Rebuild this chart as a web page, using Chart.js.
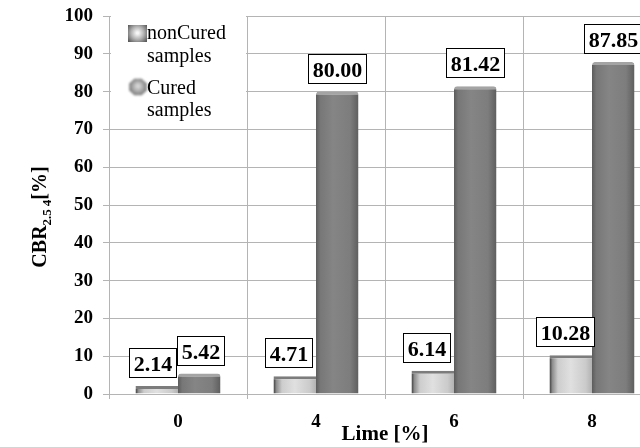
<!DOCTYPE html>
<html>
<head>
<meta charset="utf-8">
<script src="https://cdn.jsdelivr.net/npm/chart.js@4.4.1/dist/chart.umd.min.js"></script>
<style>
  html, body { margin: 0; padding: 0; background: #fff; overflow: hidden; }
  #wrap { width: 640px; height: 447px; overflow: hidden; position: relative; }
  canvas { display: block; }
</style>
</head>
<body>
<div id="wrap"><canvas id="chart" width="680" height="447"></canvas></div>
<script>
// Lime content (%) on the x axis
const categories = ['0', '4', '6', '8'];
// CBR values (%) for each lime content
const nonCuredValues = [2.14, 4.71, 6.14, 10.28];
const curedValues = [5.42, 80.00, 81.42, 87.85];
// legend text, split over two lines
const seriesNames = [['nonCured', 'samples'], ['Cured', 'samples']];
const yTickMax = 100;
const yTickStep = 10;
const xTitle = 'Lime [%]';

const SERIF = '"Liberation Serif", "Times New Roman", serif';
const GRID = '#b4b4b4';
const CATEGORY_PCT = 0.616;

// horizontal shading that gives each bar a rounded, cylinder-like look
const shades = [
  [[0, '#3c3c3c'], [0.07, '#8e8e8e'], [0.2, '#cdcdcd'], [0.5, '#e0e0e0'], [0.85, '#cbcbcb'], [1, '#b2b2b2']],
  [[0, '#5c5c5c'], [0.1, '#777777'], [0.4, '#858585'], [0.8, '#7d7d7d'], [1, '#5e5e5e']]
];
const flatColors = ['#d0d0d0', '#808080'];
const rimColors = ['#7c7c7c', '#a4a4a4'];

function barFill(context) {
  const chart = context.chart;
  const ds = context.datasetIndex;
  const xs = chart.scales && chart.scales.x;
  if (!chart.chartArea || !xs || context.dataIndex === undefined) return flatColors[ds];
  const catW = xs.width / categories.length;
  const groupW = catW * CATEGORY_PCT;
  const barW = groupW / 2;
  const left = xs.getPixelForValue(context.dataIndex) - groupW / 2 + ds * barW;
  const g = chart.ctx.createLinearGradient(left, 0, left + barW, 0);
  shades[ds].forEach(([p, c]) => g.addColorStop(p, c));
  return g;
}

// boxed value labels above the bars
const valueBoxes = {
  id: 'valueBoxes',
  afterDatasetsDraw(chart) {
    const ctx = chart.ctx;
    const shift = [-6, 0];
    ctx.save();
    ctx.font = 'bold 22px ' + SERIF;
    chart.data.datasets.forEach((ds, di) => {
      const meta = chart.getDatasetMeta(di);
      meta.data.forEach((bar, i) => {
        const text = ds.data[i].toFixed(2);
        const tw = ctx.measureText(text).width;
        const w = Math.round(tw + 8), h = 29;
        let cx = bar.x + shift[di];
        if (i === 0) cx = bar.x + (di === 0 ? -4 : 1);
        const left = Math.round(cx - w / 2) + 0.5;
        const top = Math.round(bar.y - 9 - h) + 0.5;
        ctx.fillStyle = '#fff';
        ctx.fillRect(left, top, w, h);
        ctx.strokeStyle = '#000';
        ctx.lineWidth = 1;
        ctx.strokeRect(left, top, w, h);
        ctx.fillStyle = '#000';
        ctx.textAlign = 'center';
        ctx.textBaseline = 'alphabetic';
        ctx.fillText(text, left + w / 2, top + h / 2 + 7.5);
      });
    });
    ctx.restore();
  }
};

// legend block in the upper-left corner of the plot
const cornerLegend = {
  id: 'cornerLegend',
  afterDatasetsDraw(chart) {
    const ctx = chart.ctx;
    const a = chart.chartArea;
    ctx.save();
    ctx.fillStyle = '#fff';
    ctx.fillRect(a.left + 2, a.top - 3, 135, 112);

    // square marker
    let g = ctx.createRadialGradient(137.5, 33, 1, 137.5, 33, 12);
    g.addColorStop(0, '#f6f6f6');
    g.addColorStop(0.5, '#b0b0b0');
    g.addColorStop(1, '#5a5a5a');
    ctx.fillStyle = g;
    ctx.fillRect(128, 25, 19, 17);

    // rounded cap marker
    ctx.filter = 'blur(0.8px)';
    g = ctx.createRadialGradient(138, 86, 1, 138, 87, 10);
    g.addColorStop(0, '#d8d8d8');
    g.addColorStop(0.6, '#9a9a9a');
    g.addColorStop(1, '#666666');
    ctx.fillStyle = g;
    ctx.beginPath();
    for (let k = 0; k < 8; k++) {
      const ang = Math.PI / 8 + k * Math.PI / 4;
      const px = 138 + 9.5 * Math.cos(ang), py = 87 + 9 * Math.sin(ang);
      k ? ctx.lineTo(px, py) : ctx.moveTo(px, py);
    }
    ctx.closePath();
    ctx.fill();
    ctx.filter = 'none';

    ctx.fillStyle = '#000';
    ctx.font = '20px ' + SERIF;
    ctx.textAlign = 'left';
    ctx.textBaseline = 'alphabetic';
    const baselines = [[39, 61.5], [94, 116]];
    seriesNames.forEach((lines, si) => {
      lines.forEach((t, li) => ctx.fillText(t, 147, baselines[si][li]));
    });
    ctx.restore();
  }
};

// rotated y-axis title with subscript
const yAxisTitle = {
  id: 'yAxisTitle',
  afterDraw(chart) {
    const ctx = chart.ctx;
    const big = 'bold 20px ' + SERIF, small = 'bold 13px ' + SERIF;
    const parts = [['CBR', big, 0], ['2.5', small, 5], ['4', small, 5], ['[%]', big, 0]];
    ctx.save();
    ctx.translate(46, 217);
    ctx.rotate(-Math.PI / 2);
    ctx.fillStyle = '#000';
    ctx.textBaseline = 'alphabetic';
    ctx.textAlign = 'left';
    const gaps = [0, 0, 3, 0];
    let total = 0;
    const widths = parts.map(([t, f], i) => { ctx.font = f; const w = ctx.measureText(t).width + gaps[i]; total += w; return w; });
    let x = -total / 2;
    parts.forEach(([t, f, dy], i) => {
      ctx.font = f;
      ctx.fillText(t, x + gaps[i], dy);
      x += widths[i];
    });
    ctx.restore();
  }
};

const yTickValues = [];
for (let v = 0; v <= yTickMax; v += yTickStep) yTickValues.push(v);

new Chart(document.getElementById('chart'), {
  type: 'bar',
  data: {
    labels: categories,
    datasets: [
      {
        label: seriesNames[0].join(' '),
        data: nonCuredValues,
        backgroundColor: barFill,
        borderColor: rimColors[0],
        borderWidth: { top: 3, left: 0, right: 0, bottom: 0 },
        borderSkipped: 'bottom',
        categoryPercentage: CATEGORY_PCT,
        barPercentage: 1.0
      },
      {
        label: seriesNames[1].join(' '),
        data: curedValues,
        backgroundColor: barFill,
        borderColor: rimColors[1],
        borderWidth: { top: 3, left: 0, right: 0, bottom: 0 },
        borderSkipped: 'bottom',
        borderRadius: { topLeft: 3, topRight: 3 },
        categoryPercentage: CATEGORY_PCT,
        barPercentage: 1.0
      }
    ]
  },
  options: {
    responsive: false,
    devicePixelRatio: 1,
    animation: false,
    layout: { padding: { left: 0, right: 19, top: 16, bottom: 0 } },
    plugins: {
      legend: { display: false },
      tooltip: { enabled: false }
    },
    scales: {
      x: {
        grid: { color: GRID, offset: true, tickLength: 5, lineWidth: 1 },
        border: { color: GRID },
        ticks: { color: '#000', font: { family: SERIF, size: 19, weight: 'bold' }, padding: 12 },
        title: {
          display: true, text: xTitle, color: '#000',
          font: { family: SERIF, size: 21, weight: 'bold' },
          padding: { top: 0, bottom: 0 }
        },
        afterFit(scale) { scale.height = 53; scale.paddingLeft = 0; scale.paddingRight = 0; }
      },
      y: {
        min: 0, max: yTickMax,
        afterBuildTicks(scale) { scale.ticks = yTickValues.map(v => ({ value: v })); },
        grid: { color: GRID, tickLength: 6, lineWidth: 1 },
        border: { color: GRID },
        ticks: { color: '#000', font: { family: SERIF, size: 19, weight: 'bold' }, padding: 10 },
        afterFit(scale) { scale.width = 109; scale.paddingTop = 0; scale.paddingBottom = 0; }
      }
    }
  },
  plugins: [cornerLegend, valueBoxes, yAxisTitle]
});
</script>
</body>
</html>
